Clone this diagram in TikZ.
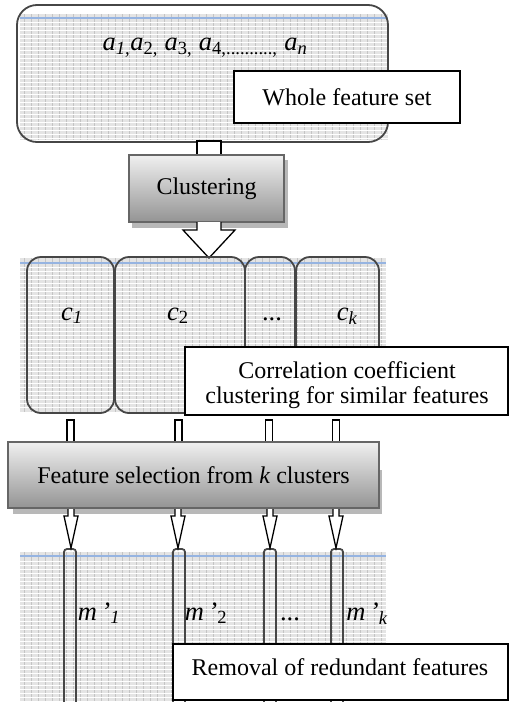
\documentclass[tikz,border=0pt]{standalone}
\usepackage{fontspec}
\setmainfont{Liberation Serif}
\definecolor{gridbase}{RGB}{228,228,228}
\definecolor{gridline}{RGB}{196,196,196}
\definecolor{headblue}{RGB}{150,180,225}
\definecolor{edgedark}{RGB}{70,70,70}
\begin{document}
\begin{tikzpicture}[x=1pt,y=-1pt,
  bigfont/.style={font=\fontsize{24}{26}\selectfont},
  itfont/.style={font=\fontsize{26.5}{30}\selectfont\itshape},
  setbox/.style={draw=edgedark, line width=1.8pt, rounded corners=20pt, inner sep=0pt},
  clbox/.style={draw=edgedark, line width=1.8pt, rounded corners=14pt, inner sep=0pt, minimum height=156pt},
  labbox/.style={draw=black, line width=1.2pt, fill=white, inner sep=0pt, bigfont, align=center},
  procbox/.style={draw=black!60, line width=1.6pt, top color=white!94!black, bottom color=black!42, inner sep=0pt, bigfont},
  shadowfill/.style={fill=black!28},
  blockline/.style={draw=black, line width=1.3pt, fill=white},
  gridv/.style={draw=gridline, line width=0.7pt},
  gridh/.style={draw=white, line width=0.7pt},
  bar/.style={draw=edgedark, line width=1.8pt, rounded corners=3pt}
]
\useasboundingbox (0,0) rectangle (509,702);
% ---------- grid backgrounds ----------
\fill[gridbase] (20,14) rectangle (388,140);
\foreach \gx in {24,31,...,386} \draw[gridv] (\gx,14) -- (\gx,140);
\foreach \gy in {22,26,...,138} \draw[gridh] (20,\gy) -- (388,\gy);
\draw[headblue, line width=1.8pt] (20,18) -- (388,18);

\fill[gridbase] (20,258) rectangle (386,412);
\foreach \gx in {24,31,...,384} \draw[gridv] (\gx,258) -- (\gx,412);
\foreach \gy in {267,271,...,410} \draw[gridh] (20,\gy) -- (386,\gy);
\draw[headblue, line width=1.8pt] (20,263) -- (386,263);

\fill[gridbase] (20,552) rectangle (386,702);
\foreach \gx in {24,31,...,384} \draw[gridv] (\gx,552) -- (\gx,702);
\foreach \gy in {561,565,...,702} \draw[gridh] (20,\gy) -- (386,\gy);
\draw[headblue, line width=1.8pt] (20,556) -- (386,556);

% ---------- whole feature set ----------
\node[setbox, minimum width=371pt, minimum height=137pt] (set) at (202.5,73.5) {};
\node[itfont] (alist) at (205,48) {a\textsubscript{1,}a\textsubscript{\upshape 2,} a\textsubscript{\upshape 3,} a\textsubscript{\upshape 4,..........,} a\textsubscript{n}};
\node[labbox, minimum width=226pt, minimum height=52pt] (whole) at (347,97) {Whole feature set};

% ---------- clustering ----------
\coordinate (s1a) at (197,141);
\coordinate (s1b) at (221,156);
\draw[blockline] (s1a) rectangle (s1b);
\fill[shadowfill] (132,160) rectangle (288,228);
\node[procbox, minimum width=155pt, minimum height=67pt] (clus) at (206.5,188.5) {Clustering};
\coordinate (a2l) at (197,222);
\coordinate (a2r) at (221,222);
\coordinate (a2tip) at (209,258);
\draw[blockline] (a2l) -- (197,230) -- (183,230) -- (a2tip) -- (235,230) -- (221,230) -- (a2r);

% ---------- clusters ----------
\node[clbox, minimum width=87pt] (c1) at (70.5,335) {};
\node[clbox, minimum width=130pt] (c2) at (180,335) {};
\node[clbox, minimum width=50pt] (cd) at (270,335) {};
\node[clbox, minimum width=83pt] (ck) at (337.5,335) {};
\node[itfont, anchor=base] (c1t) at (72,320) {c\textsubscript{1}};
\node[itfont, anchor=base] (c2t) at (178,320) {c\textsubscript{\upshape 2}};
\node[itfont, anchor=base] (cdt) at (272,320) {\upshape ...};
\node[itfont, anchor=base] (ckt) at (347,320) {c\textsubscript{k}};
\node[labbox, minimum width=323pt, minimum height=68pt] (corr) at (346.5,381) {};
\node[bigfont, align=center, inner sep=0pt] (corrt) at (347,385) {Correlation coefficient\\[-1pt]clustering for similar features};

% ---------- small shafts ----------
\foreach \sx/\nm in {70.5/p1,178.5/p2,269/p3,336/p4}{
  \coordinate (\nm a) at (\sx-3.5,420);
  \coordinate (\nm b) at (\sx+3.5,444);
  \draw[blockline] (\nm a) rectangle (\nm b);
}

% ---------- feature selection ----------
\fill[shadowfill] (13,470) rectangle (382,514);
\node[procbox, minimum width=371pt, minimum height=66pt] (fsel) at (193.5,475) {Feature selection from \textit{k} clusters};

% ---------- bars ----------
\foreach \bx/\nm in {70/b1,179/b2,270/b3,337/b4}{
  \coordinate (\nm top) at (\bx,549);
  \draw[bar] (\bx-6,712) -- (\bx-6,549) -- (\bx+6,549) -- (\bx+6,712);
}
% ---------- arrows ----------
\foreach \ax in {71,178,270,336}{
  \draw[blockline] (\ax-3,509) -- (\ax-3,516) -- (\ax-7,516) -- (\ax,548) -- (\ax+7,516) -- (\ax+3,516) -- (\ax+3,509);
}

% ---------- selected features ----------
\node[itfont, anchor=base] (m1) at (99,620) {m\,’\textsubscript{1}};
\node[itfont, anchor=base] (m2) at (206,620) {m\,’\textsubscript{\upshape 2}};
\node[itfont, anchor=base] (md) at (290,620) {\upshape ...};
\node[itfont, anchor=base] (mk) at (367,620) {m\,’\textsubscript{k}};
\node[labbox, minimum width=335pt, minimum height=56pt] (remv) at (340.5,672) {};
\node[bigfont, inner sep=0pt] (remt) at (340,667) {Removal of redundant features};
\end{tikzpicture}
\end{document}
